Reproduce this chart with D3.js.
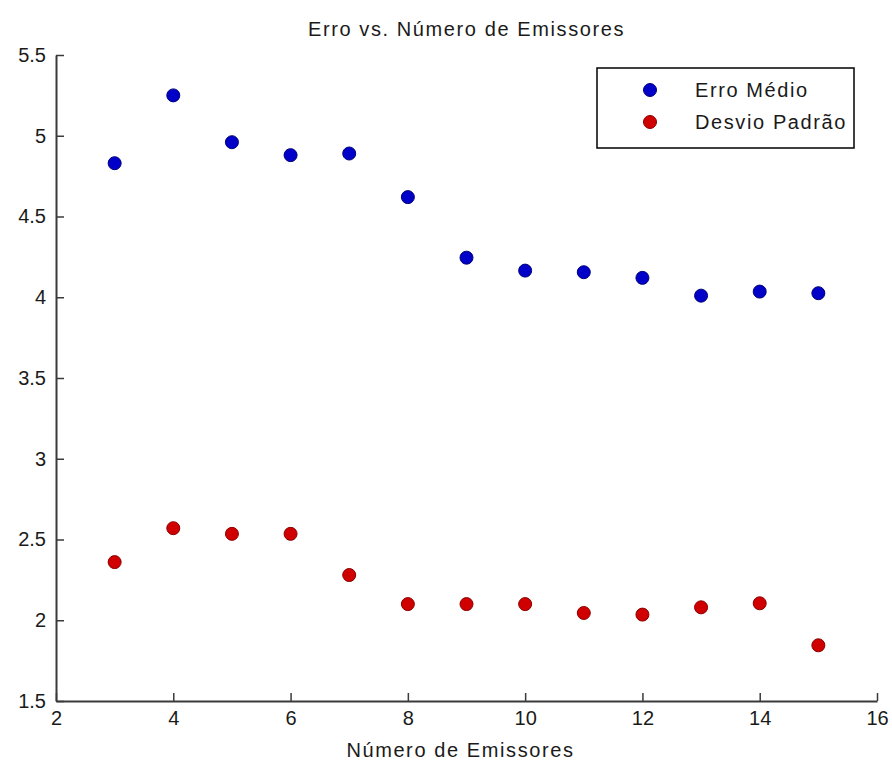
<!DOCTYPE html>
<html>
<head>
<meta charset="utf-8">
<script src="https://cdn.jsdelivr.net/npm/d3@7"></script>
<style>
    html, body { margin: 0; padding: 0; background: #fff; overflow: hidden; }
    svg { display: block; }
    svg text { font-family: "Liberation Sans", Arial, sans-serif; fill: #1a1a1a; }
</style>
</head>
<body>
<div id="chart"></div>
<script>
// data
const emissores = [3, 4, 5, 6, 7, 8, 9, 10, 11, 12, 13, 14, 15];
const erroMedio = [4.83, 5.25, 4.96, 4.88, 4.89, 4.62, 4.245, 4.165, 4.155, 4.12, 4.01, 4.035, 4.025];
const desvioPadrao = [2.36, 2.57, 2.535, 2.535, 2.28, 2.10, 2.10, 2.10, 2.045, 2.035, 2.08, 2.105, 1.845];
const xTicks = [2, 4, 6, 8, 10, 12, 14, 16];
const yTicks = [1.5, 2, 2.5, 3, 3.5, 4, 4.5, 5, 5.5];
const seriesNames = ['Erro Médio', 'Desvio Padrão'];
const seriesColors = ['#0000c8', '#d00000'];
const seriesStrokes = ['#00007a', '#8a0000'];

const width = 892, height = 765;
const margin = { top: 55, right: 15, bottom: 64, left: 56 };
const innerWidth = width - margin.left - margin.right;
const innerHeight = height - margin.top - margin.bottom;

const svg = d3.select('#chart')
    .append('svg')
    .attr('width', width)
    .attr('height', height);

const g = svg.append('g')
    .attr('transform', `translate(${margin.left}, ${margin.top})`);

const x = d3.scaleLinear().domain([2, 16]).range([0, innerWidth]);
const y = d3.scaleLinear().domain([1.5, 5.5]).range([innerHeight, 0]);

const fontSize = '20px';
const spacing = '1.6px';

// axes (ticks point inward, like matlab)
const xAxis = g.append('g')
    .attr('transform', `translate(0, ${innerHeight})`)
    .call(d3.axisBottom(x).tickValues(xTicks).tickFormat(d3.format('d'))
        .tickSizeInner(-8).tickSizeOuter(0).tickPadding(10));

const yAxis = g.append('g')
    .call(d3.axisLeft(y).tickValues(yTicks).tickFormat(d => d)
        .tickSizeInner(-8).tickSizeOuter(0).tickPadding(10));

[xAxis, yAxis].forEach(ax => {
    ax.attr('font-size', fontSize);
    ax.select('.domain').attr('stroke', '#3a3a3a').attr('stroke-width', 2);
    ax.selectAll('.tick line').attr('stroke', '#3a3a3a').attr('stroke-width', 1.5);
    ax.selectAll('text')
        .attr('font-family', '"Liberation Sans", Arial, sans-serif')
        .attr('font-size', fontSize)
        .attr('fill', '#1a1a1a');
});

// points
const series = [erroMedio, desvioPadrao];
series.forEach((values, i) => {
    g.append('g')
        .selectAll('circle')
        .data(emissores.map((e, j) => ({ e, v: values[j] })))
        .join('circle')
        .attr('cx', d => x(d.e))
        .attr('cy', d => y(d.v))
        .attr('r', 6.5)
        .attr('fill', seriesColors[i])
        .attr('stroke', seriesStrokes[i])
        .attr('stroke-width', 1);
});

// title and axis label
svg.append('text')
    .attr('x', margin.left + innerWidth / 2)
    .attr('y', 36)
    .attr('text-anchor', 'middle')
    .attr('font-size', fontSize)
    .attr('letter-spacing', spacing)
    .text('Erro vs. Número de Emissores');

svg.append('text')
    .attr('x', margin.left + innerWidth / 2 - 6)
    .attr('y', 757)
    .attr('text-anchor', 'middle')
    .attr('font-size', fontSize)
    .attr('letter-spacing', spacing)
    .text('Número de Emissores');

// legend
const legend = svg.append('g').attr('transform', 'translate(597, 68)');
legend.append('rect')
    .attr('width', 257)
    .attr('height', 80)
    .attr('fill', '#fff')
    .attr('stroke', '#000')
    .attr('stroke-width', 1.5);

seriesNames.forEach((name, i) => {
    const row = legend.append('g').attr('transform', `translate(0, ${22 + i * 32})`);
    row.append('circle')
        .attr('cx', 53)
        .attr('cy', 0)
        .attr('r', 6.5)
        .attr('fill', seriesColors[i])
        .attr('stroke', seriesStrokes[i]);
    row.append('text')
        .attr('x', 98)
        .attr('y', 7)
        .attr('font-size', fontSize)
        .attr('letter-spacing', spacing)
        .text(name);
});
</script>
</body>
</html>
